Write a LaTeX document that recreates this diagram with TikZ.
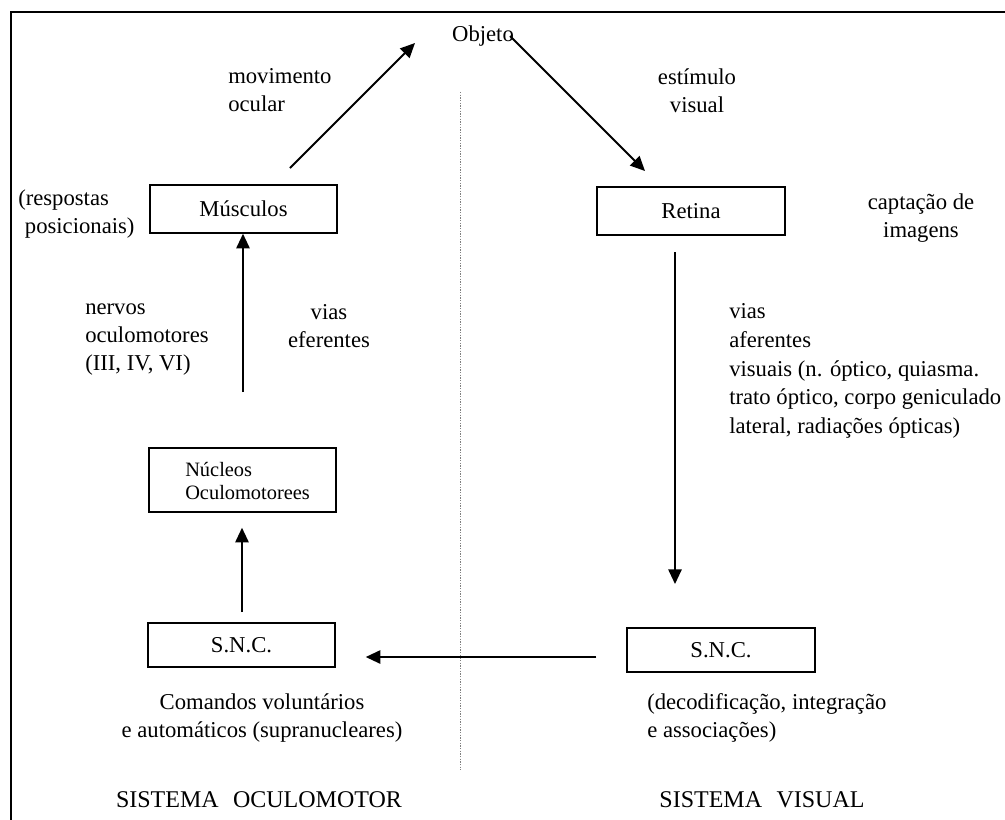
\documentclass[tikz,border=0pt]{standalone}
\usepackage{fontspec}
\setmainfont{Liberation Serif}
\usetikzlibrary{arrows.meta}
\begin{document}
\begin{tikzpicture}[x=0.75pt,y=-0.75pt,
  txt/.style={inner sep=0pt,font=\fontsize{17}{21}\selectfont},
  boxnode/.style={draw,line width=1.1pt,inner sep=0pt,font=\fontsize{17}{21}\selectfont},
  arr/.style={line width=1.4pt,-{Triangle[length=11pt,width=10pt]}},
  frame/.style={line width=1.5pt},
  divider/.style={gray,line width=0.6pt,dash pattern=on 1pt off 1pt}]
\useasboundingbox (0,0) rectangle (1005,819);
% frame
\draw[frame] (1010,12) -- (10.5,12) -- (10.5,825);
% divider
\draw[divider] (460,92) -- (460,770);
% top
\node[txt] (obj) at (483,36) {Objeto};
\node[txt,align=left,anchor=west] (mov) at (228,90) {movimento\\ocular};
\node[txt,align=center] (est) at (697,91) {estímulo\\visual};
% boxes
\node[boxnode,minimum width=187*0.75pt,minimum height=48*0.75pt] (mus) at (243.5,209) {Músculos};
\node[boxnode,minimum width=188*0.75pt,minimum height=48*0.75pt] (ret) at (691,211) {Retina};
\node[boxnode,minimum width=187*0.75pt,minimum height=64*0.75pt] (nuc) at (242.5,480) {};
\node[txt,align=left,anchor=west,font=\fontsize{15.3}{17.5}\selectfont] (nuctxt) at (185,481) {Núcleos\\Oculomotorees};
\node[boxnode,minimum width=187*0.75pt,minimum height=44*0.75pt] (sncl) at (241.5,645) {S.N.C.};
\node[boxnode,minimum width=188*0.75pt,minimum height=44*0.75pt] (sncr) at (721,650) {S.N.C.};
% side labels
\node[txt,align=left,anchor=west] (resp) at (18,214) {(respostas\\\hspace*{5pt}posicionais)};
\node[txt,align=center] (capt) at (921,218) {captação de\\imagens};
\node[txt,align=left,anchor=west] (nerv) at (85,340) {nervos\\oculomotores\\(III, IV, VI)};
\node[txt,align=center] (efer) at (329,326) {vias\\eferentes};
\node[txt,align=left,anchor=west,font=\fontsize{17}{21.5}\selectfont] (afer) at (729,371) {vias\\aferentes\\visuais (n. óptico, quiasma.\\trato óptico, corpo geniculado\\lateral, radiações ópticas)};
\node[txt,align=center] (cmd) at (262,718) {Comandos voluntários\\e automáticos (supranucleares)};
\node[txt,align=left,anchor=west] (deco) at (647,718) {(decodificação, integração\\e associações)};
\node[txt,font=\fontsize{18}{21}\selectfont] (sisl) at (259,800) {SISTEMA\hspace{0.6em}OCULOMOTOR};
\node[txt,font=\fontsize{18}{21}\selectfont] (sisv) at (762,800) {SISTEMA\hspace{0.6em}VISUAL};
% connector end points
\coordinate (mtop) at (290,168);
\coordinate (otip) at (415,43);
\coordinate (ostart) at (510,36);
\coordinate (rtip) at (645,171);
\coordinate (rbot) at (675,252);
\coordinate (sntip) at (675,584);
\coordinate (nucbot) at (243,392);
\coordinate (snlbot) at (242,612);
% arrows
\draw[arr] (mtop) -- (otip);
\draw[arr] (ostart) -- (rtip);
\draw[arr] (rbot) -- (sntip);
\draw[arr] (nucbot) -- (mus.south -| nucbot);
\draw[arr] (snlbot) -- ([yshift=-15*0.75pt]nuc.south -| snlbot);
\draw[arr] ([xshift=-30*0.75pt]sncr.west |- 0,657) -- ([xshift=30*0.75pt]sncl.east |- 0,657);
\end{tikzpicture}
\end{document}
